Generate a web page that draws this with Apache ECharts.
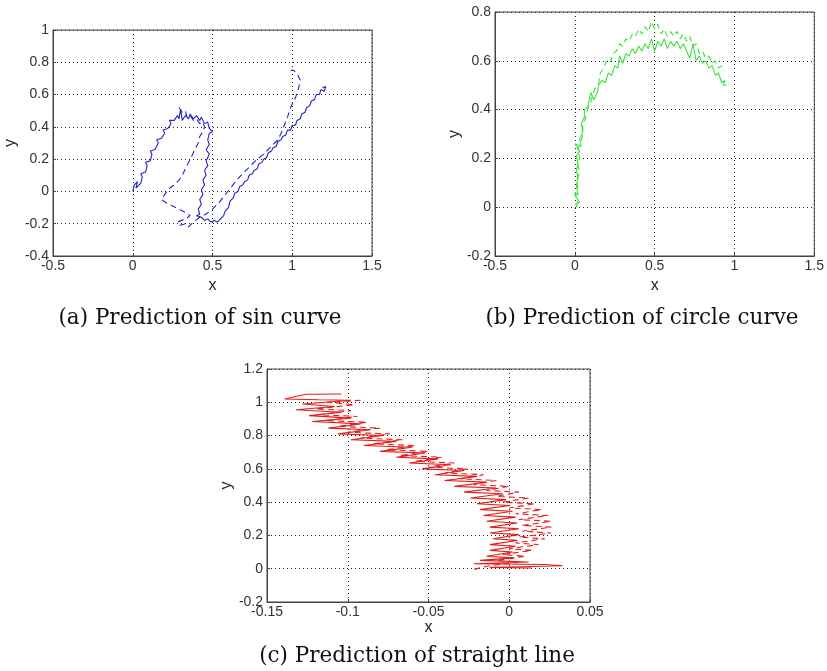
<!DOCTYPE html>
<html>
<head>
<meta charset="utf-8">
<script src="https://cdn.jsdelivr.net/npm/echarts@6/dist/echarts.min.js"></script>
<style>
html,body{margin:0;padding:0;background:#fff;}
#chart{width:827px;height:671px;}
</style>
</head>
<body>
<div id="chart"></div>
<script>
// ---- Data ----
const captions = ['(a) Prediction of sin curve', '(b) Prediction of circle curve', '(c) Prediction of straight line'];

const sinSolid = [[0.00,0.00],[0.01,0.04],[0.00,0.03],[0.03,0.06],[0.02,0.02],[0.05,0.05],[0.06,0.09],[0.05,0.11],[0.08,0.12],[0.09,0.16],[0.08,0.18],[0.11,0.19],[0.12,0.23],[0.11,0.25],[0.14,0.26],[0.16,0.30],[0.15,0.32],[0.18,0.33],[0.20,0.36],[0.19,0.38],[0.22,0.39],[0.24,0.42],[0.23,0.44],[0.26,0.44],[0.28,0.47],[0.29,0.45],[0.30,0.51],[0.31,0.44],[0.33,0.47],[0.35,0.45],[0.36,0.48],[0.38,0.45],[0.40,0.47],[0.42,0.44],[0.43,0.46],[0.45,0.42],[0.47,0.43],[0.48,0.39],[0.50,0.37],[0.48,0.36],[0.47,0.32],[0.48,0.29],[0.46,0.26],[0.48,0.23],[0.46,0.19],[0.47,0.16],[0.45,0.13],[0.46,0.10],[0.44,0.07],[0.45,0.04],[0.43,0.01],[0.44,-0.02],[0.42,-0.05],[0.43,-0.08],[0.41,-0.11],[0.42,-0.14],[0.40,-0.15],[0.43,-0.16],[0.45,-0.18],[0.47,-0.17],[0.49,-0.19],[0.51,-0.18],[0.53,-0.19],[0.55,-0.17],[0.57,-0.15],[0.58,-0.12],[0.60,-0.10],[0.61,-0.06],[0.63,-0.04],[0.64,-0.01],[0.66,0.00],[0.67,0.03],[0.69,0.04],[0.70,0.06],[0.72,0.07],[0.73,0.10],[0.75,0.11],[0.76,0.13],[0.78,0.14],[0.79,0.17],[0.81,0.18],[0.82,0.20],[0.84,0.21],[0.85,0.24],[0.87,0.25],[0.88,0.27],[0.90,0.28],[0.91,0.31],[0.93,0.32],[0.94,0.34],[0.96,0.35],[0.97,0.38],[0.99,0.38],[1.00,0.41],[1.02,0.41],[1.03,0.44],[1.05,0.45],[1.06,0.48],[1.08,0.49],[1.09,0.52],[1.11,0.53],[1.12,0.56],[1.14,0.57],[1.15,0.60],[1.17,0.60],[1.18,0.63],[1.20,0.62],[1.21,0.65],[1.19,0.64]];

const sinDashed = [[0.29,0.52],[0.31,0.49],[0.33,0.50],[0.34,0.46],[0.36,0.47],[0.38,0.44],[0.40,0.45],[0.42,0.42],[0.44,0.43],[0.45,0.40],[0.44,0.37],[0.42,0.34],[0.41,0.30],[0.39,0.26],[0.37,0.22],[0.35,0.18],[0.33,0.14],[0.31,0.10],[0.29,0.07],[0.26,0.04],[0.23,0.02],[0.20,-0.02],[0.18,-0.05],[0.21,-0.07],[0.25,-0.09],[0.29,-0.11],[0.33,-0.13],[0.36,-0.15],[0.33,-0.17],[0.28,-0.19],[0.30,-0.21],[0.33,-0.20],[0.35,-0.22],[0.38,-0.19],[0.42,-0.16],[0.46,-0.14],[0.50,-0.11],[0.54,-0.07],[0.58,-0.02],[0.62,0.03],[0.66,0.08],[0.70,0.12],[0.74,0.16],[0.78,0.20],[0.82,0.23],[0.85,0.26],[0.88,0.29],[0.91,0.32],[0.93,0.36],[0.95,0.41],[0.97,0.46],[0.99,0.52],[1.02,0.58],[1.04,0.64],[1.05,0.69],[1.03,0.73],[1.01,0.75],[0.99,0.75]];

const circleSolid = [[0.00,0.01],[0.03,0.02],[0.01,0.04],[0.00,0.06],[0.02,0.05],[0.01,0.09],[0.02,0.12],[0.01,0.15],[0.02,0.18],[0.01,0.21],[0.03,0.23],[0.00,0.26],[0.04,0.25],[0.03,0.28],[0.05,0.31],[0.04,0.34],[0.06,0.37],[0.06,0.40],[0.08,0.41],[0.09,0.44],[0.10,0.47],[0.12,0.44],[0.14,0.47],[0.15,0.50],[0.17,0.52],[0.19,0.51],[0.21,0.55],[0.23,0.54],[0.25,0.58],[0.27,0.57],[0.28,0.62],[0.30,0.59],[0.32,0.63],[0.34,0.62],[0.36,0.65],[0.38,0.63],[0.40,0.66],[0.42,0.64],[0.44,0.67],[0.46,0.65],[0.48,0.69],[0.50,0.64],[0.52,0.68],[0.54,0.66],[0.56,0.69],[0.58,0.65],[0.60,0.68],[0.62,0.66],[0.64,0.68],[0.66,0.65],[0.68,0.67],[0.70,0.64],[0.72,0.61],[0.74,0.67],[0.76,0.60],[0.78,0.62],[0.80,0.59],[0.82,0.60],[0.84,0.57],[0.86,0.58],[0.88,0.54],[0.90,0.55],[0.92,0.51],[0.94,0.52],[0.93,0.50],[0.95,0.50]];

const circleDashed = [[0.01,0.00],[0.02,0.03],[0.00,0.05],[0.02,0.08],[0.01,0.11],[0.03,0.14],[0.02,0.17],[0.03,0.20],[0.02,0.24],[0.04,0.27],[0.05,0.30],[0.05,0.34],[0.07,0.37],[0.08,0.40],[0.10,0.43],[0.11,0.46],[0.13,0.49],[0.15,0.51],[0.16,0.55],[0.18,0.57],[0.20,0.60],[0.22,0.59],[0.24,0.63],[0.26,0.64],[0.28,0.67],[0.30,0.66],[0.32,0.69],[0.34,0.68],[0.36,0.71],[0.38,0.70],[0.40,0.73],[0.42,0.71],[0.44,0.74],[0.46,0.72],[0.48,0.76],[0.50,0.73],[0.52,0.75],[0.54,0.71],[0.56,0.73],[0.58,0.70],[0.60,0.72],[0.62,0.70],[0.64,0.72],[0.66,0.69],[0.68,0.71],[0.70,0.68],[0.72,0.70],[0.74,0.66],[0.76,0.67],[0.78,0.63],[0.80,0.64],[0.82,0.61],[0.84,0.62],[0.86,0.59],[0.88,0.60],[0.90,0.57],[0.92,0.58],[0.93,0.56]];

const lineSolid = [[-0.104,1.05],[-0.126,1.048],[-0.139,1.02],[-0.118,1.015],[-0.098,1.012],[-0.128,0.99],[-0.108,0.975],[-0.132,0.955],[-0.104,0.94],[-0.124,0.92],[-0.098,0.905],[-0.122,0.885],[-0.092,0.87],[-0.112,0.845],[-0.086,0.835],[-0.106,0.81],[-0.078,0.80],[-0.098,0.775],[-0.070,0.765],[-0.090,0.74],[-0.060,0.73],[-0.080,0.705],[-0.052,0.695],[-0.070,0.67],[-0.044,0.66],[-0.062,0.635],[-0.036,0.625],[-0.054,0.60],[-0.028,0.59],[-0.046,0.565],[-0.020,0.555],[-0.040,0.53],[-0.014,0.52],[-0.034,0.495],[-0.008,0.485],[-0.028,0.46],[-0.004,0.45],[-0.024,0.425],[-0.002,0.415],[-0.020,0.39],[0.000,0.38],[-0.018,0.355],[0.002,0.345],[-0.016,0.32],[0.004,0.31],[-0.014,0.285],[0.005,0.275],[-0.012,0.25],[0.006,0.24],[-0.012,0.215],[0.006,0.205],[-0.010,0.18],[0.005,0.17],[-0.012,0.145],[0.004,0.135],[-0.012,0.11],[0.002,0.10],[-0.014,0.075],[0.003,0.065],[-0.018,0.05],[0.012,0.04],[-0.022,0.03],[0.022,0.025],[0.033,0.018],[0.008,0.012],[-0.012,0.008],[0.014,0.004]];

const lineDashed = [[-0.092,1.012],[-0.112,1.0],[-0.096,0.985],[-0.120,0.96],[-0.098,0.95],[-0.118,0.925],[-0.094,0.915],[-0.114,0.89],[-0.088,0.88],[-0.106,0.855],[-0.080,0.845],[-0.100,0.82],[-0.074,0.81],[-0.092,0.785],[-0.066,0.775],[-0.084,0.75],[-0.058,0.74],[-0.076,0.715],[-0.050,0.705],[-0.068,0.68],[-0.042,0.67],[-0.058,0.645],[-0.034,0.635],[-0.050,0.61],[-0.026,0.60],[-0.040,0.575],[-0.016,0.565],[-0.030,0.54],[-0.008,0.53],[-0.022,0.505],[0.000,0.495],[-0.014,0.47],[0.006,0.46],[-0.008,0.435],[0.012,0.425],[-0.004,0.40],[0.016,0.39],[0.000,0.365],[0.020,0.355],[0.004,0.33],[0.024,0.32],[0.006,0.295],[0.026,0.285],[0.008,0.26],[0.026,0.25],[0.008,0.225],[0.026,0.215],[0.006,0.19],[0.022,0.18],[0.004,0.155],[0.018,0.145],[0.000,0.12],[0.014,0.11],[-0.004,0.085],[0.010,0.075],[-0.008,0.05],[0.006,0.04],[-0.014,0.015],[-0.024,-0.01]];

const xTicksA = {min:-0.5, max:1.5, interval:0.5};
const yTicksA = {min:-0.4, max:1, interval:0.2};
const xTicksB = {min:-0.5, max:1.5, interval:0.5};
const yTicksB = {min:-0.2, max:0.8, interval:0.2};
const xTicksC = {min:-0.15, max:0.05, interval:0.05};
const yTicksC = {min:-0.2, max:1.2, interval:0.2};

// ---- Chart ----
const chart = echarts.init(document.getElementById('chart'));
const tickFont = {fontFamily:'Liberation Sans, Arial, sans-serif', fontSize:14, color:'#333'};
const gridCol = '#444';

function xAx(gi, t, gap){
  return {type:'value', gridIndex:gi, min:t.min, max:t.max, interval:t.interval,
    name:'x', nameLocation:'middle', nameGap:gap,
    nameTextStyle:{fontFamily:'Liberation Sans, Arial, sans-serif', fontSize:16, color:'#222'},
    axisLine:{show:true, onZero:false, lineStyle:{color:gridCol, width:1}},
    axisTick:{show:true, inside:true, length:3, lineStyle:{color:gridCol}},
    axisLabel:Object.assign({margin:3}, tickFont),
    splitLine:{show:true, lineStyle:{color:'#222', width:1, type:[1,3]}}};
}
function yAx(gi, t, gap){
  return {type:'value', gridIndex:gi, min:t.min, max:t.max, interval:t.interval,
    name:'y', nameLocation:'middle', nameGap:gap, nameRotate:90,
    nameTextStyle:{fontFamily:'Liberation Sans, Arial, sans-serif', fontSize:16, color:'#222'},
    axisLine:{show:true, onZero:false, lineStyle:{color:gridCol, width:1}},
    axisTick:{show:true, inside:true, length:3, lineStyle:{color:gridCol}},
    axisLabel:Object.assign({margin:4}, tickFont),
    splitLine:{show:true, lineStyle:{color:'#222', width:1, type:[1,3]}}};
}
function ser(data, gi, color, dashed){
  return {type:'line', xAxisIndex:gi, yAxisIndex:gi, data:data, showSymbol:false, symbol:'none',
    smooth:false, animation:false, silent:true,
    lineStyle:{color:color, width:1.1, type: dashed ? [6,4] : 'solid'}};
}

const blue = '#2424c4', green = '#3ee03e', red = '#e41c1c';
const capFont = '21.5px "DejaVu Serif", serif';

chart.setOption({
  backgroundColor:'#fff',
  animation:false,
  grid:[
    {left:53, top:30, width:319, height:226, show:true, borderColor:gridCol, borderWidth:1, backgroundColor:'#fff'},
    {left:495, top:12, width:321, height:244, show:true, borderColor:gridCol, borderWidth:1, backgroundColor:'#fff'},
    {left:267, top:369, width:323, height:233, show:true, borderColor:gridCol, borderWidth:1, backgroundColor:'#fff'}
  ],
  xAxis:[xAx(0,xTicksA,22), xAx(1,xTicksB,22), xAx(2,xTicksC,13)],
  yAxis:[yAx(0,yTicksA,34), yAx(1,yTicksB,32), yAx(2,yTicksC,30)],
  series:[
    ser(sinSolid,0,blue,false), ser(sinDashed,0,blue,true),
    ser(circleSolid,1,green,false), ser(circleDashed,1,green,true),
    ser(lineSolid,2,red,false), ser(lineDashed,2,red,true)
  ],
  graphic:[
    {type:'text', x:200, y:318, style:{text:captions[0], font:capFont, fill:'#111', align:'center', verticalAlign:'middle'}},
    {type:'text', x:642, y:318, style:{text:captions[1], font:capFont, fill:'#111', align:'center', verticalAlign:'middle'}},
    {type:'text', x:417, y:656, style:{text:captions[2], font:capFont, fill:'#111', align:'center', verticalAlign:'middle'}}
  ]
});
</script>
</body>
</html>
